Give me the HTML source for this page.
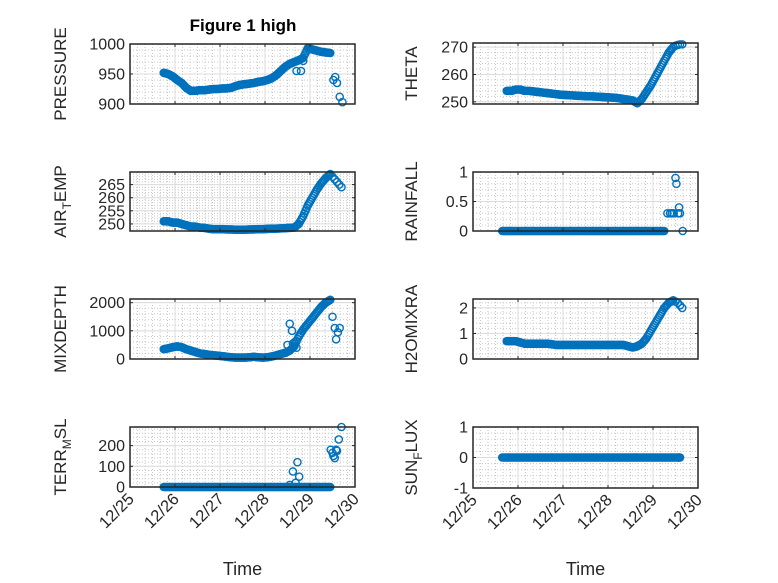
<!DOCTYPE html>
<html><head><meta charset="utf-8"><style>
html,body{margin:0;padding:0;background:#fff;}
svg{display:block;font-family:"Liberation Sans",sans-serif;}
</style></head><body>
<svg id="fig" width="778" height="583" viewBox="0 0 778 583" xmlns="http://www.w3.org/2000/svg">
<rect width="778" height="583" fill="#fff"/>
<text x="243" y="31" text-anchor="middle" font-size="17" font-weight="bold" fill="#000">Figure 1 high</text>
</svg>
<script>
const T = [25.75,25.85,25.95,26.05,26.15,26.25,26.35,26.45,26.55,26.65,26.75,26.85,26.95,27.05,27.15,27.25,27.35,27.45,27.55,27.65,27.75,27.85,27.95,28.05,28.15,28.25,28.35,28.45,28.55,28.65,28.75,28.85,28.95,29.05,29.15,29.25,29.35,29.45];
const xTickVals = [25,26,27,28,29,30];
const xTickLabels = ['12/25','12/26','12/27','12/28','12/29','12/30'];

const pressure = [952,950,946,940,935,927,922,922,923,923,924,925,925,926,926,927,930,932,933,934,935,937,938,940,943,948,955,962,967,970,973,977,993,991,989,987,986,985];
const pressureExT = [28.7,28.8,28.85,29.52,29.56,29.6,29.66,29.72];
const pressureExV = [955,955,972,940,945,935,912,903];

const theta = [254,254,254.5,254.5,254,254,253.8,253.6,253.4,253.2,253,252.8,252.6,252.5,252.4,252.3,252.2,252.1,252,252,251.9,251.8,251.7,251.6,251.5,251.3,251,250.8,250.5,249.5,251,253.5,256,259,262,265,268,270];
const thetaExT = [29.5,29.55,29.6,29.65];
const thetaExV = [270.5,270.8,271,271];

const airTemp = [251,251,250.5,250.5,250,249.5,249,249,248.6,248.5,248.2,248,248,248,247.9,247.9,247.8,247.8,247.8,247.9,247.9,248,248,248.1,248.2,248.2,248.3,248.4,248.5,248.6,250,253,257,260,263,265.5,267.5,269];
const airTempExT = [29.5,29.55,29.6,29.65,29.7];
const airTempExV = [268,267,266,265,264];

const rainT = [25.65,25.75,25.85,25.95,26.05,26.15,26.25,26.35,26.45,26.55,26.65,26.75,26.85,26.95,27.05,27.15,27.25,27.35,27.45,27.55,27.65,27.75,27.85,27.95,28.05,28.15,28.25,28.35,28.45,28.55,28.65,28.75,28.85,28.95,29.05,29.15,29.25];
const rain = [0,0,0,0,0,0,0,0,0,0,0,0,0,0,0,0,0,0,0,0,0,0,0,0,0,0,0,0,0,0,0,0,0,0,0,0,0];
const rainExT = [29.32,29.38,29.42,29.46,29.5,29.52,29.56,29.58,29.6,29.66];
const rainExV = [0.3,0.3,0.3,0.3,0.9,0.8,0.3,0.4,0.3,0];

const mixDepth = [350,380,420,450,420,350,300,250,200,180,150,130,120,100,80,60,50,50,50,60,80,60,50,60,90,130,180,220,300,450,800,1050,1250,1450,1650,1850,2000,2100];
const mixExT = [28.5,28.55,28.6,28.62,28.66,28.7,29.5,29.55,29.58,29.62,29.66];
const mixExV = [500,1250,1000,550,600,400,1500,1100,700,950,1100];

const h2o = [0.7,0.7,0.7,0.65,0.6,0.6,0.6,0.6,0.6,0.6,0.58,0.55,0.55,0.55,0.55,0.55,0.55,0.55,0.55,0.55,0.55,0.55,0.55,0.55,0.55,0.55,0.55,0.5,0.45,0.5,0.6,0.8,1.1,1.4,1.7,2.0,2.2,2.3];
const h2oExT = [29.5,29.55,29.6,29.65];
const h2oExV = [2.25,2.2,2.1,2.0];

const terr = [0,0,0,0,0,0,0,0,0,0,0,0,0,0,0,0,0,0,0,0,0,0,0,0,0,0,0,0,0,0,0,0,0,0,0,0,0,0];
const terrExT = [28.55,28.62,28.68,28.72,28.76,29.46,29.5,29.52,29.55,29.58,29.6,29.64,29.7];
const terrExV = [10,75,20,120,50,180,165,150,140,180,175,230,290];

const sunT = [25.65,25.75,25.85,25.95,26.05,26.15,26.25,26.35,26.45,26.55,26.65,26.75,26.85,26.95,27.05,27.15,27.25,27.35,27.45,27.55,27.65,27.75,27.85,27.95,28.05,28.15,28.25,28.35,28.45,28.55,28.65,28.75,28.85,28.95,29.05,29.15,29.25,29.35,29.45,29.55,29.6];
const sun = [0,0,0,0,0,0,0,0,0,0,0,0,0,0,0,0,0,0,0,0,0,0,0,0,0,0,0,0,0,0,0,0,0,0,0,0,0,0,0,0,0];

const NS='http://www.w3.org/2000/svg';
const svg=document.getElementById('fig');
function mk(tag,attrs,parent){const e=document.createElementNS(NS,tag);for(const k in attrs)e.setAttribute(k,attrs[k]);(parent||svg).appendChild(e);return e;}

const panels = [
 {name:'pressure',x0:130,x1:355,y0:44,y1:104,ymin:900,ymax:1000,yt:[900,950,1000],ylab:['PRESSURE'],t:T,v:pressure,et:pressureExT,ev:pressureExV,xl:false},
 {name:'theta',x0:473,x1:698,y0:43,y1:104,ymin:249.2,ymax:271.5,yt:[250,260,270],ylab:['THETA'],t:T,v:theta,et:thetaExT,ev:thetaExV,xl:false},
 {name:'air-temp',x0:130,x1:355,y0:172,y1:231,ymin:247.3,ymax:269.8,yt:[250,255,260,265],ylab:['AIR','T','EMP'],t:T,v:airTemp,et:airTempExT,ev:airTempExV,xl:false},
 {name:'rainfall',x0:473,x1:698,y0:172,y1:231,ymin:0,ymax:1,yt:[0,0.5,1],ylab:['RAINFALL'],t:rainT,v:rain,et:rainExT,ev:rainExV,xl:false},
 {name:'mixdepth',x0:130,x1:355,y0:299,y1:359,ymin:0,ymax:2130,yt:[0,1000,2000],ylab:['MIXDEPTH'],t:T,v:mixDepth,et:mixExT,ev:mixExV,xl:false},
 {name:'h2omixra',x0:473,x1:698,y0:299,y1:359,ymin:0,ymax:2.35,yt:[0,1,2],ylab:['H2OMIXRA'],t:T,v:h2o,et:h2oExT,ev:h2oExV,xl:false},
 {name:'terr-msl',x0:130,x1:355,y0:427,y1:487,ymin:0,ymax:290,yt:[0,100,200],ylab:['TERR','M','SL'],t:T,v:terr,et:terrExT,ev:terrExV,xl:true},
 {name:'sun-flux',x0:473,x1:698,y0:427,y1:488,ymin:-1,ymax:1,yt:[-1,0,1],ylab:['SUN','F','LUX'],t:sunT,v:sun,et:[],ev:[],xl:true},
];

panels.forEach(p=>{
 const g=mk('g',{});
 
 
 const xs=d=>p.x0+(d-25)/5*(p.x1-p.x0);
 const ys=v=>p.y1-(v-p.ymin)/(p.ymax-p.ymin)*(p.y1-p.y0);
 mk('rect',{x:p.x0,y:p.y0,width:p.x1-p.x0,height:p.y1-p.y0,fill:'#fff'},g);
 for(let d=25;d<30;d+=1/6){const x=xs(d);if(Math.abs(d-Math.round(d))<1e-6)continue;mk('line',{x1:x,x2:x,y1:p.y0,y2:p.y1,stroke:'#c8c8c8','stroke-width':1,'stroke-dasharray':'1,2'},g);}
 const ystep=(p.yt[1]-p.yt[0])/5;
 for(let v=p.yt[0]-5*ystep;v<=p.ymax+1e-9;v+=ystep){if(v<p.ymin)continue;const y=ys(v);mk('line',{x1:p.x0,x2:p.x1,y1:y,y2:y,stroke:'#c8c8c8','stroke-width':1,'stroke-dasharray':'1,2'},g);}
 xTickVals.forEach(d=>{const x=xs(d);mk('line',{x1:x,x2:x,y1:p.y0,y2:p.y1,stroke:'#dcdcdc','stroke-width':1},g);});
 p.yt.forEach(v=>{const y=ys(v);mk('line',{x1:p.x0,x2:p.x1,y1:y,y2:y,stroke:'#dcdcdc','stroke-width':1},g);});
 const ser=mk('g',{fill:'none',stroke:'#0072BD','stroke-width':1.4},g);
 
 
 const all=p.t.map((t,i)=>[t,p.v[i]]).concat(p.et.map((t,i)=>[t,p.ev[i]]));
 all.forEach(([t,v])=>{
  const c=mk('circle',{cx:xs(t),cy:ys(v),r:3.6},ser);
  
  
 });
 for(let i=0;i<p.t.length-1;i++){
  for(let k=1;k<4;k++){const f=k/4;const t=p.t[i]+(p.t[i+1]-p.t[i])*f;const v=p.v[i]+(p.v[i+1]-p.v[i])*f;
   const c=mk('circle',{cx:xs(t),cy:ys(v),r:3.6},ser);
   
   }
 }
 mk('rect',{x:p.x0,y:p.y0,width:p.x1-p.x0,height:p.y1-p.y0,fill:'none',stroke:'#262626','stroke-width':1.5},g);
 xTickVals.forEach((d,i)=>{const x=xs(d);
  mk('line',{x1:x,x2:x,y1:p.y1,y2:p.y1-3,stroke:'#262626'},g);
  mk('line',{x1:x,x2:x,y1:p.y0,y2:p.y0+3,stroke:'#262626'},g);
  if(p.xl){const tx=mk('text',{x:x+5,y:p.y1+13,'text-anchor':'end','font-size':16.5,fill:'#262626',transform:`rotate(-45 ${x+5} ${p.y1+13})`},g);tx.textContent=xTickLabels[i];
   
   }
 });
 p.yt.forEach(v=>{const y=ys(v);
  mk('line',{x1:p.x0,x2:p.x0+3,y1:y,y2:y,stroke:'#262626'},g);
  mk('line',{x1:p.x1,x2:p.x1-3,y1:y,y2:y,stroke:'#262626'},g);
  const tx=mk('text',{x:p.x0-5,y:y+5.5,'text-anchor':'end','font-size':16,fill:'#262626'},g);tx.textContent=String(v);
  
  
 });
 const lx=p.x0-(p.x0<200?64:56), ly=(p.y0+p.y1)/2;
 const yl=mk('text',{x:lx,y:ly,'text-anchor':'middle','font-size':17,fill:'#262626',transform:`rotate(-90 ${lx} ${ly})`},g);
 
 
 if(p.ylab.length===1){yl.textContent=p.ylab[0];}
 else{
  const a=mk('tspan',{},yl);a.textContent=p.ylab[0];
  const b=mk('tspan',{dy:5,'font-size':12},yl);b.textContent=p.ylab[1];
  const c=mk('tspan',{dy:-5},yl);c.textContent=p.ylab[2];
 }
 if(p.xl){const tl=mk('text',{x:(p.x0+p.x1)/2,y:575,'text-anchor':'middle','font-size':18,fill:'#262626'},g);tl.textContent='Time';
  
  }
});
</script>
</body></html>
